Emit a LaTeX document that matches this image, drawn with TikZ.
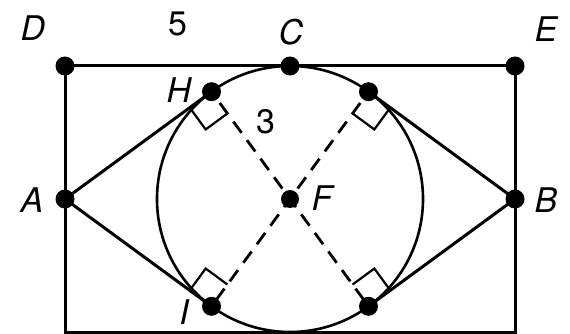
\documentclass[tikz,border=0pt]{standalone}
\usepackage{fontspec}
\setmainfont{TeX Gyre Heros}
\usetikzlibrary{calc}
\newlength{\du}
\setlength{\du}{1\unitlength}

\begin{document}
\begin{tikzpicture}[lbl/.style={inner sep=0pt,font=\fontsize{34}{40}\selectfont\itshape},
  num/.style={inner sep=0pt,font=\fontsize{34}{40}\selectfont}]
\pgftransformxscale{1.000000}
\pgftransformyscale{-1.000000}
\useasboundingbox (0\du,0\du) rectangle (570\du,334\du);
\definecolor{dialinecolor}{rgb}{0.000000, 0.000000, 0.000000}
\pgfsetstrokecolor{dialinecolor}
\pgfsetfillcolor{dialinecolor}
% points
\coordinate (D) at (65.000000\du,66.000000\du);
\coordinate (E) at (515.000000\du,66.000000\du);
\coordinate (C) at (290.000000\du,66.000000\du);
\coordinate (A) at (65.000000\du,199.000000\du);
\coordinate (B) at (515.000000\du,199.000000\du);
\coordinate (F) at (290.000000\du,199.000000\du);
\coordinate (H) at (211.500000\du,91.700000\du);
\coordinate (J) at (368.500000\du,91.700000\du);
\coordinate (I) at (211.500000\du,306.300000\du);
\coordinate (K) at (368.500000\du,306.300000\du);
\coordinate (L) at (65.000000\du,332.500000\du);
\coordinate (M) at (515.000000\du,332.500000\du);
\pgfsetlinewidth{3.000000\du}
\pgfsetdash{}{0pt}
\pgfsetmiterjoin
\draw (D)--(E)--(M)--(L)--cycle;
\draw (H)--(A)--(I);
\draw (J)--(B)--(K);
\pgfsetlinewidth{2.600000\du}
\draw (F) circle (133.000000\du);
% right angles
\pgfsetlinewidth{2.200000\du}
\foreach \p/\q in {H/A,J/B,I/A,K/B}{
  \coordinate (\p t) at ($(\p)!27\du!(\q)$);
  \coordinate (\p r) at ($(\p)!27\du!(F)$);
  \draw (\p t)--($(\p t)+(\p r)-(\p)$)--(\p r);
}
% radii
\pgfsetlinewidth{2.800000\du}
\pgfsetdash{{14\du}{9\du}}{-14\du}
\draw (H)--(K);
\draw (J)--(I);
\pgfsetdash{}{0pt}
\foreach \p in {A,B,C,D,E,H,I,J,K}
  \fill (\p) circle (9.500000\du);
\fill (F) circle (9.000000\du);
% setfont left to latex
\node[lbl] (labD) at (33.000000\du,28.000000\du){D};
\node[num] (lab5) at (178.000000\du,24.000000\du){5};
\node[lbl] (labC) at (291.000000\du,32.000000\du){C};
\node[lbl] (labE) at (546.000000\du,29.000000\du){E};
\node[lbl] (labH) at (179.000000\du,90.000000\du){H};
\node[num] (lab3) at (266.000000\du,122.000000\du){3};
\node[lbl] (labA) at (32.000000\du,200.000000\du){A};
\node[lbl] (labF) at (322.000000\du,198.000000\du){F};
\node[lbl] (labB) at (546.000000\du,200.000000\du){B};
\node[lbl] (labI) at (184.000000\du,312.000000\du){I};
\end{tikzpicture}
\end{document}
